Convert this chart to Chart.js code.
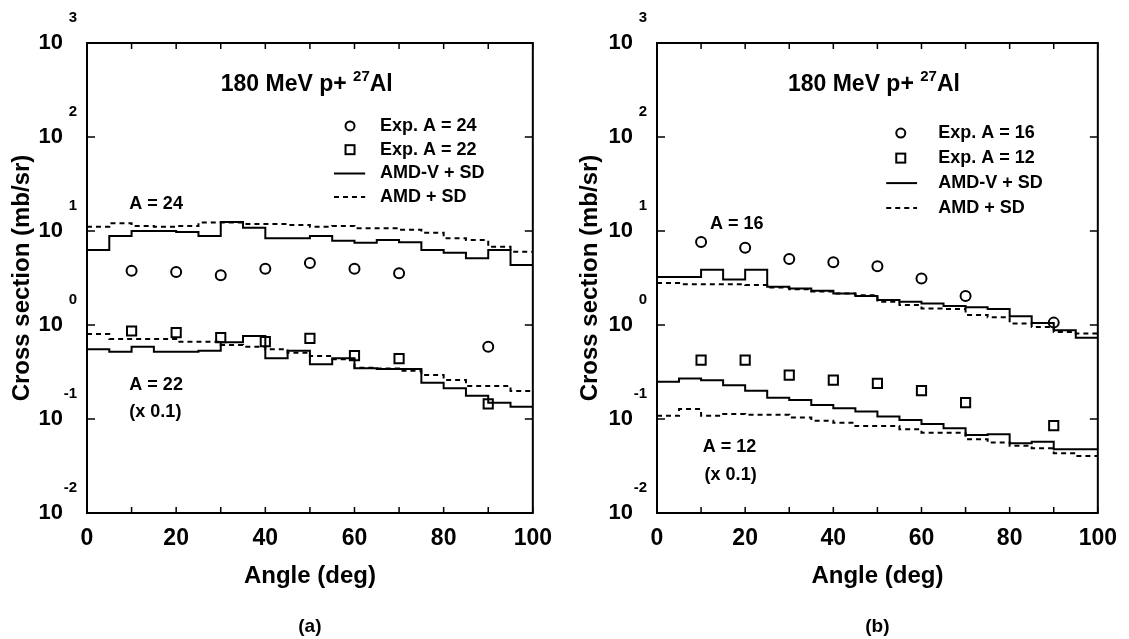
<!DOCTYPE html>
<html>
<head>
<meta charset="utf-8">
<script src="https://cdn.jsdelivr.net/npm/chart.js@4.4.0/dist/chart.umd.min.js"></script>
<style>
  body { margin: 0; background: #fff; }
  #wrap { position: relative; width: 1129px; height: 639px; }
  .panel { position: absolute; top: 0; }
</style>
</head>
<body>
<div id="wrap">
  <div class="panel" style="left:0"><canvas id="chartA" width="564" height="639"></canvas></div>
  <div class="panel" style="left:564px"><canvas id="chartB" width="565" height="639"></canvas></div>
</div>
<script>
// angle bins of the calculations (5 deg wide) and measured angles
const binEdges = [0,5,10,15,20,25,30,35,40,45,50,55,60,65,70,75,80,85,90,95,100];
const expAngles = [10,20,30,40,50,60,70,90];
const xTickMarks = [0,10,20,30,40,50,60,70,80,90,100];
const decades = [-2,-1,0,1,2,3];

// panel (a): A = 24 and A = 22 (x 0.1)
const expA24 = [3.78,3.66,3.38,3.97,4.57,3.97,3.55,0.587];
const expA22 = [0.863,0.828,0.733,0.665,0.721,0.472,0.439,0.145];
const amdvA24 = [6.28,8.85,10.0,10.0,9.75,8.85,12.5,10.8,8.36,8.36,8.85,7.88,7.5,8.02,7.6,6.28,5.88,5.12,6.28,4.35];
const amdA24 = [11.1,12.1,11.3,11.1,11.3,12.3,12.3,11.9,11.9,11.6,11.1,11.3,10.7,10.7,10.3,9.6,8.36,8.0,6.8,6.03];
const amdvA22 = [0.551,0.520,0.587,0.520,0.520,0.533,0.655,0.764,0.443,0.533,0.382,0.443,0.346,0.340,0.340,0.243,0.212,0.177,0.149,0.135];
const amdA22 = [0.80,0.71,0.71,0.71,0.665,0.665,0.612,0.587,0.551,0.508,0.468,0.431,0.351,0.345,0.327,0.294,0.26,0.225,0.225,0.199];

// panel (b): A = 16 and A = 12 (x 0.1)
const expA16 = [7.62,6.64,5.03,4.64,4.21,3.12,2.03,1.06];
const expA12 = [0.422,0.422,0.293,0.259,0.239,0.200,0.149,0.085];
const amdvA16 = [3.25,3.25,3.88,3.04,3.88,2.55,2.45,2.31,2.16,2.03,1.84,1.77,1.69,1.59,1.54,1.48,1.24,1.05,0.88,0.73];
const amdA16 = [2.8,2.72,2.72,2.72,2.66,2.5,2.4,2.27,2.16,2.07,1.77,1.63,1.5,1.48,1.28,1.21,1.04,0.95,0.84,0.81];
const amdvA12 = [0.249,0.27,0.259,0.229,0.200,0.168,0.159,0.141,0.130,0.120,0.106,0.0976,0.0885,0.0796,0.0676,0.069,0.0552,0.0573,0.0477,0.0477];
const amdA12 = [0.108,0.128,0.108,0.113,0.111,0.111,0.104,0.096,0.091,0.084,0.084,0.078,0.0716,0.0716,0.0609,0.0561,0.0518,0.0489,0.0433,0.0405];

const FAMILY = '"Liberation Sans", Arial, Helvetica, sans-serif';
Chart.defaults.font.family = FAMILY;
Chart.defaults.color = '#000';

function bold(px) { return 'bold ' + px + 'px ' + FAMILY; }

// histogram: one point per bin edge, last value repeated at 100 deg
function histo(vals) {
  return binEdges.map((x, i) => ({ x: x, y: vals[Math.min(i, vals.length - 1)] }));
}
function points(vals) {
  return expAngles.map((x, i) => ({ x: x, y: vals[i] }));
}

// frame, inward ticks, 10^n labels, text labels and legend
const framePlugin = {
  id: 'frame',
  afterDraw(chart, args, opts) {
    const ctx = chart.ctx, a = chart.chartArea;
    const xs = chart.scales.x, ys = chart.scales.y;
    ctx.save();
    ctx.strokeStyle = '#000';
    ctx.fillStyle = '#000';
    ctx.lineWidth = 2;
    ctx.strokeRect(a.left, a.top, a.right - a.left, a.bottom - a.top);

    ctx.lineWidth = 1.5;
    ctx.beginPath();
    xTickMarks.forEach(t => {
      const px = xs.getPixelForValue(t);
      ctx.moveTo(px, a.bottom); ctx.lineTo(px, a.bottom - 6);
      ctx.moveTo(px, a.top); ctx.lineTo(px, a.top + 6);
    });
    decades.forEach(d => {
      const py = ys.getPixelForValue(Math.pow(10, d));
      ctx.moveTo(a.left, py); ctx.lineTo(a.left + 8, py);
      ctx.moveTo(a.right, py); ctx.lineTo(a.right - 8, py);
    });
    ctx.stroke();

    // y tick labels as 10 with exponent
    ctx.textBaseline = 'middle';
    ctx.textAlign = 'right';
    decades.forEach(d => {
      const py = ys.getPixelForValue(Math.pow(10, d));
      ctx.font = bold(22);
      ctx.fillText('10', a.left - 24, py);
      ctx.font = bold(15);
      ctx.fillText(String(d), a.left - 10, py - 25);
    });

    // reaction title with superscript mass number
    ctx.textAlign = 'left';
    let tx = xs.getPixelForValue(opts.titleAt[0]);
    const ty = ys.getPixelForValue(opts.titleAt[1]);
    ctx.font = bold(23);
    ctx.fillText('180 MeV p+ ', tx, ty);
    tx += ctx.measureText('180 MeV p+ ').width;
    ctx.font = bold(15);
    ctx.fillText('27', tx, ty - 8);
    tx += ctx.measureText('27').width;
    ctx.font = bold(23);
    ctx.fillText('Al', tx, ty);

    // curve labels
    ctx.font = bold(18);
    opts.labels.forEach(l => {
      ctx.fillText(l.text, xs.getPixelForValue(l.x), ys.getPixelForValue(l.y));
    });

    // legend
    const lg = opts.legend;
    let ly = ys.getPixelForValue(lg.y);
    const sx = xs.getPixelForValue(lg.symX);
    const lx0 = xs.getPixelForValue(lg.lineX[0]);
    const lx1 = xs.getPixelForValue(lg.lineX[1]);
    const txx = xs.getPixelForValue(lg.textX);
    lg.rows.forEach(r => {
      ctx.lineWidth = 2;
      ctx.setLineDash([]);
      if (r.kind === 'circle') {
        ctx.beginPath(); ctx.arc(sx, ly, 4.5, 0, Math.PI * 2); ctx.stroke();
      } else if (r.kind === 'square') {
        ctx.strokeRect(sx - 4.5, ly - 4.5, 9, 9);
      } else {
        if (r.kind === 'dashed') ctx.setLineDash([5, 4]);
        ctx.beginPath(); ctx.moveTo(lx0, ly); ctx.lineTo(lx1, ly); ctx.stroke();
      }
      ctx.setLineDash([]);
      ctx.font = bold(18);
      ctx.fillText(r.text, txx, ly);
      ly += lg.step;
    });

    // panel tag
    ctx.textAlign = 'center';
    ctx.font = bold(19);
    ctx.fillText(opts.tag, (a.left + a.right) / 2, 627);
    ctx.restore();
  }
};

function makeChart(id, p) {
  const solid = { showLine: true, stepped: true, borderColor: '#000', borderWidth: 2, pointRadius: 0, fill: false };
  const dashed = Object.assign({}, solid, { borderDash: [5, 4] });
  const circ = { pointStyle: 'circle', pointRadius: 5, borderColor: '#000', backgroundColor: 'rgba(0,0,0,0)', pointBorderWidth: 2, showLine: false };
  const sq = Object.assign({}, circ, { pointStyle: 'rect', pointRadius: 6.5 });
  return new Chart(document.getElementById(id), {
    type: 'scatter',
    data: {
      datasets: [
        Object.assign({ label: p.names[0], data: points(p.exp1) }, circ),
        Object.assign({ label: p.names[1], data: points(p.exp2) }, sq),
        Object.assign({ label: 'AMD-V + SD', data: histo(p.amdv1) }, solid),
        Object.assign({ label: 'AMD + SD', data: histo(p.amd1) }, dashed),
        Object.assign({ label: 'AMD-V + SD', data: histo(p.amdv2) }, solid),
        Object.assign({ label: 'AMD + SD', data: histo(p.amd2) }, dashed)
      ]
    },
    options: {
      responsive: false,
      animation: false,
      devicePixelRatio: 1,
      layout: { padding: { top: 43, right: p.padRight, bottom: 0, left: 0 } },
      plugins: {
        legend: { display: false },
        tooltip: { enabled: false },
        frame: p.frame
      },
      scales: {
        x: {
          type: 'linear', min: 0, max: 100,
          grid: { display: false, drawTicks: false },
          border: { display: false },
          ticks: { stepSize: 20, padding: 12, color: '#000', font: { size: 23, weight: 'bold' } },
          title: { display: true, text: 'Angle (deg)', color: '#000', font: { size: 24, weight: 'bold' }, padding: { bottom: 48 } },
          afterFit(s) { s.height = 126; }
        },
        y: {
          type: 'logarithmic', min: 0.01, max: 1000,
          grid: { display: false, drawTicks: false },
          border: { display: false },
          ticks: { display: false },
          title: { display: true, text: 'Cross section (mb/sr)', color: '#000', font: { size: 24, weight: 'bold' }, padding: { top: p.titlePad } },
          afterFit(s) { s.width = p.yWidth; }
        }
      }
    },
    plugins: [framePlugin]
  });
}

makeChart('chartA', {
  names: ['Exp. A = 24', 'Exp. A = 22'],
  exp1: expA24, exp2: expA22, amdv1: amdvA24, amd1: amdA24, amdv2: amdvA22, amd2: amdA22,
  padRight: 22, yWidth: 87, titlePad: 8,
  frame: {
    titleAt: [30, 357],
    labels: [
      { text: 'A = 24', x: 9.5, y: 19.4 },
      { text: 'A = 22', x: 9.5, y: 0.23 },
      { text: '(x 0.1)', x: 9.5, y: 0.119 }
    ],
    legend: {
      y: 131, step: 23.7, symX: 59, lineX: [55.4, 62.4], textX: 65.7,
      rows: [
        { kind: 'circle', text: 'Exp. A = 24' },
        { kind: 'square', text: 'Exp. A = 22' },
        { kind: 'solid', text: 'AMD-V + SD' },
        { kind: 'dashed', text: 'AMD + SD' }
      ]
    },
    tag: '(a)'
  }
});

makeChart('chartB', {
  names: ['Exp. A = 16', 'Exp. A = 12'],
  exp1: expA16, exp2: expA12, amdv1: amdvA16, amd1: amdA16, amdv2: amdvA12, amd2: amdA12,
  padRight: 27, yWidth: 93, titlePad: 12,
  frame: {
    titleAt: [29.7, 357],
    labels: [
      { text: 'A = 16', x: 12, y: 11.9 },
      { text: 'A = 12', x: 10.4, y: 0.0504 },
      { text: '(x 0.1)', x: 10.8, y: 0.0254 }
    ],
    legend: {
      y: 110, step: 25, symX: 55.3, lineX: [52, 59], textX: 63.8,
      rows: [
        { kind: 'circle', text: 'Exp. A = 16' },
        { kind: 'square', text: 'Exp. A = 12' },
        { kind: 'solid', text: 'AMD-V + SD' },
        { kind: 'dashed', text: 'AMD + SD' }
      ]
    },
    tag: '(b)'
  }
});
</script>
</body>
</html>
